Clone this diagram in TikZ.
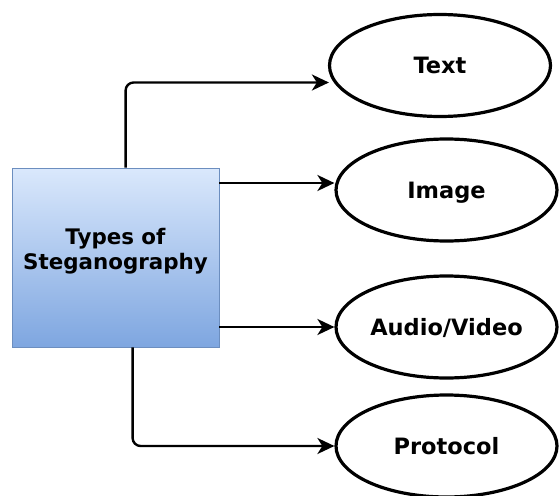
\documentclass[tikz,border=0pt]{standalone}
\usepackage{fontspec}
\setmainfont{DejaVu Sans}
\usetikzlibrary{shapes.geometric,arrows.meta}
\definecolor{boxtop}{RGB}{218,232,252}
\definecolor{boxbot}{RGB}{126,166,224}
\definecolor{boxline}{RGB}{108,142,191}
\begin{document}
\begin{tikzpicture}[x=1pt,y=-1pt,
  oval/.style={ellipse,draw=black,line width=3.2pt,minimum width=221pt,minimum height=102pt,inner sep=0pt,text height=17pt,text depth=0pt,font=\bfseries\fontsize{22.5}{26}\selectfont},
  arr/.style={-{Stealth[length=17pt,width=16pt,inset=5pt]},line width=2.4pt,rounded corners=8pt},
  typebox/.style={draw=boxline,line width=0.8pt,top color=boxtop,bottom color=boxbot,minimum width=207pt,minimum height=179pt,inner sep=0pt},
  lbl/.style={align=center,font=\bfseries\fontsize{21.4}{25}\selectfont}]
\useasboundingbox (0,0) rectangle (559,495);
\node[typebox] (box) at (115.5,257.5) {};
\node[lbl] (boxlbl) at (115.5,251) {Types of\\Steganography};
\node[oval] (txt) at (440,65.5) {Text};
\node[oval] (img) at (446.5,190) {Image};
\node[oval] (aud) at (446.5,327) {Audio/Video};
\node[oval] (pro) at (446.5,446) {Protocol};
\coordinate (txtin) at ([yshift=-17pt,xshift=1pt]txt.west);
\coordinate (imgin) at ([yshift=7pt]img.west);
\draw[arr] ([xshift=114pt]box.north west) |- (txtin);
\draw[arr] (box.east |- imgin) -- (imgin);
\draw[arr] (box.east |- aud.west) -- (aud.west);
\draw[arr] ([xshift=121pt]box.south west) |- (pro.west);
\end{tikzpicture}
\end{document}
